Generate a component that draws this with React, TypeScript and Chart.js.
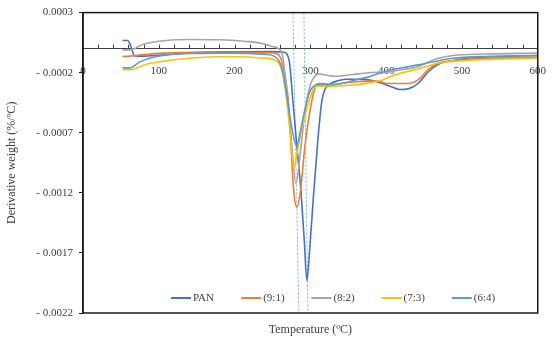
import React, { useEffect, useRef } from "react";
import { Chart, registerables } from "chart.js";

Chart.register(...registerables);

const seriesNames = ["PAN", "(9:1)", "(8:2)", "(7:3)", "(6:4)"];
const seriesColors = ["#4472C4", "#ED7D31", "#A5A5A5", "#FFC000", "#5B9BD5"];

const panT = [52, 59, 62, 68, 80, 100, 150, 200, 250, 265, 272, 277, 282, 287.5, 292, 295.4, 299, 304.6, 310, 315, 320, 327, 335, 346, 360, 377, 395, 408, 418, 429, 442, 456, 469, 488, 508, 550, 600];
const panV = [0.000068, 0.000068, 0.00004, -0.00006, -0.000062, -0.000055, -0.000032, -0.000026, -0.000025, -0.00003, -0.0001, -0.00044, -0.0008, -0.00118, -0.0016, -0.00193, -0.00168, -0.00118, -0.00075, -0.00044, -0.00033, -0.00029, -0.00027, -0.000255, -0.000255, -0.00026, -0.00029, -0.00032, -0.00034, -0.000335, -0.00029, -0.00019, -0.00013, -0.0001, -0.00008, -0.000065, -0.000057];

const r91T = [52, 62, 80, 105, 150, 200, 250, 258, 264, 271, 278, 282, 287, 293, 300, 305, 310, 318, 328, 340, 360, 377, 390, 400, 416, 429, 442, 456, 469, 488, 530, 600];
const r91V = [-0.000065, -0.000062, -0.00005, -0.000037, -0.00003, -0.00003, -0.000035, -0.00005, -0.00015, -0.00044, -0.00118, -0.00132, -0.00118, -0.0008, -0.0005, -0.00035, -0.00029, -0.00029, -0.0003, -0.00029, -0.000275, -0.00027, -0.00027, -0.00029, -0.00029, -0.00029, -0.00026, -0.00017, -0.00012, -0.0001, -0.00008, -0.000073];

const r82T = [52, 62, 79, 110, 140, 180, 215, 235, 250, 258, 263, 268, 274, 281, 287, 293, 300, 306, 311, 320, 333, 355, 377, 407, 420, 442, 456, 469, 488, 530, 600];
const r82V = [-0.00001, -0.00001, 0.000035, 0.000068, 0.000076, 0.000074, 0.00006, 0.000045, 0.000018, 0.0, -0.00005, -0.0003, -0.0007, -0.00112, -0.00085, -0.00052, -0.0003, -0.00023, -0.00021, -0.00022, -0.00023, -0.000215, -0.0002, -0.00019, -0.000175, -0.00015, -0.00011, -0.00008, -0.000057, -0.000045, -0.000037];

const r73T = [52, 62, 84, 105, 140, 193, 241, 256, 263, 269, 274, 278, 283, 290, 298, 304, 309, 325, 341, 360, 377, 395, 407, 416, 442, 469, 488, 530, 600];
const r73V = [-0.000175, -0.000175, -0.00013, -0.000106, -0.00008, -0.000065, -0.00008, -0.000106, -0.0002, -0.00044, -0.00075, -0.001, -0.00085, -0.00063, -0.00044, -0.00034, -0.00031, -0.000315, -0.00031, -0.0003, -0.000285, -0.00026, -0.00023, -0.00021, -0.00017, -0.00012, -0.000106, -0.00009, -0.00008];

const r64T = [52, 62, 75, 97, 140, 193, 241, 256, 263, 270, 276, 282, 287, 293, 299, 305, 309, 325, 341, 360, 377, 393, 407, 416, 442, 469, 488, 530, 600];
const r64V = [-0.00016, -0.00016, -0.00011, -0.000065, -0.00004, -0.000037, -0.000048, -0.00008, -0.00018, -0.00044, -0.00068, -0.00081, -0.00068, -0.0005, -0.00036, -0.00031, -0.0003, -0.0003, -0.00029, -0.00026, -0.000235, -0.0002, -0.000175, -0.000165, -0.000135, -0.0001, -0.00008, -0.000065, -0.000057];

const markerTopT = [277, 291.5];
const markerBottomT = [284.9, 296.7];

const yMin = -0.0022;
const yMax = 0.0003;
const yStep = 0.0005;
const xMin = 0;
const xMax = 600;
const xLabelStep = 100;
const xMinorStep = 20;

const FONT = "'Liberation Serif', 'DejaVu Serif', serif";
const TEXT = "#404040";

const allT = [panT, r91T, r82T, r73T, r64T];
const allV = [panV, r91V, r82V, r73V, r64V];

const toPoints = (t: number[], v: number[]) => t.map((x, i) => ({ x, y: v[i] }));

const decorPlugin = {
  id: "decor",
  beforeDraw(chart: any) {
    const { ctx } = chart;
    ctx.save();
    ctx.fillStyle = "#ffffff";
    ctx.fillRect(0, 0, chart.width, chart.height);
    ctx.restore();
  },
  afterDatasetsDraw(chart: any) {
    const { ctx, chartArea } = chart;
    const xs = chart.scales.x;
    const ys = chart.scales.y;
    const zeroY = ys.getPixelForValue(0);
    ctx.save();
    // minor ticks upward on zero line
    ctx.strokeStyle = TEXT;
    ctx.lineWidth = 1;
    for (let v = xMin + xMinorStep; v < xMax; v += xMinorStep) {
      const px = Math.round(xs.getPixelForValue(v)) + 0.5;
      ctx.beginPath();
      ctx.moveTo(px, zeroY);
      ctx.lineTo(px, zeroY - 4);
      ctx.stroke();
    }
    // frame
    ctx.strokeStyle = "#1a1a1a";
    ctx.lineWidth = 1.5;
    ctx.strokeRect(chartArea.left, chartArea.top, chartArea.right - chartArea.left, chartArea.bottom - chartArea.top);
    // legend
    ctx.font = `11px ${FONT}`;
    ctx.textBaseline = "middle";
    ctx.textAlign = "left";
    const ly = chartArea.bottom - 15;
    seriesNames.forEach((name, i) => {
      const lx = chartArea.left + 88 + i * 70.2;
      ctx.strokeStyle = seriesColors[i];
      ctx.lineWidth = 2;
      ctx.beginPath();
      ctx.moveTo(lx, ly);
      ctx.lineTo(lx + 20, ly);
      ctx.stroke();
      ctx.fillStyle = TEXT;
      ctx.fillText(name, lx + 22, ly + 0.5);
    });
    ctx.restore();
  },
};

export default function App() {
  const ref = useRef<HTMLCanvasElement | null>(null);
  useEffect(() => {
    document.body.style.margin = "0";
    Chart.defaults.font.family = FONT;
    const datasets: any[] = allT.map((t, i) => ({
      label: seriesNames[i],
      data: toPoints(t, allV[i]),
      borderColor: seriesColors[i],
      backgroundColor: seriesColors[i],
      borderWidth: 1.6,
      pointRadius: 0,
      cubicInterpolationMode: "monotone",
      fill: false,
      order: 5 - i,
    }));
    markerTopT.forEach((t, i) => {
      datasets.push({
        label: "marker" + i,
        data: [
          { x: t, y: yMax },
          { x: markerBottomT[i], y: yMin },
        ],
        borderColor: "#79AEDB",
        borderWidth: 1,
        borderDash: [2, 2],
        pointRadius: 0,
        fill: false,
        order: 10,
      });
    });
    const chart = new Chart(ref.current as HTMLCanvasElement, {
      type: "line",
      data: { datasets },
      plugins: [decorPlugin],
      options: {
        animation: false,
        responsive: true,
        maintainAspectRatio: false,
        layout: { padding: { left: 0, top: 11, right: 14, bottom: 0 } },
        plugins: { legend: { display: false }, tooltip: { enabled: false } },
        scales: {
          x: {
            type: "linear",
            position: { y: 0 } as any,
            min: xMin,
            max: xMax,
            grid: { display: false },
            border: { display: true, color: TEXT, width: 1 },
            ticks: {
              stepSize: xLabelStep,
              padding: 8,
              color: TEXT,
              font: { size: 11, family: FONT },
              maxRotation: 0,
            },
          },
          x2: {
            type: "linear",
            axis: "x",
            position: "bottom",
            min: xMin,
            max: xMax,
            grid: { display: false },
            border: { display: false },
            ticks: { display: false },
            title: {
              display: true,
              text: "Temperature (ºC)",
              color: TEXT,
              font: { size: 12, family: FONT },
              padding: { top: 4, bottom: 9 },
            },
            afterFit: (s: any) => {
              s.height = 33;
            },
          },
          y: {
            type: "linear",
            position: "left",
            min: yMin,
            max: yMax,
            grid: { display: true, drawOnChartArea: false, drawTicks: true, tickLength: 4, color: "#1a1a1a" },
            border: { display: true, color: "#1a1a1a", width: 1.5 },
            ticks: {
              stepSize: yStep,
              padding: 6,
              color: TEXT,
              font: { size: 11, family: FONT },
              callback: (v: any) => {
                const n = Number(v);
                return n >= 0 ? n.toFixed(4) : "- " + Math.abs(n).toFixed(4);
              },
            },
            title: {
              display: true,
              text: "Derivative weight (%/ºC)",
              color: TEXT,
              font: { size: 12, family: FONT },
              padding: { top: 5, bottom: 4 },
            },
            afterFit: (s: any) => {
              s.width = 83;
            },
          },
        },
      },
    });
    return () => chart.destroy();
  }, []);
  return (
    <div style={{ position: "relative", width: 554, height: 346 }}>
      <canvas ref={ref} />
    </div>
  );
}
